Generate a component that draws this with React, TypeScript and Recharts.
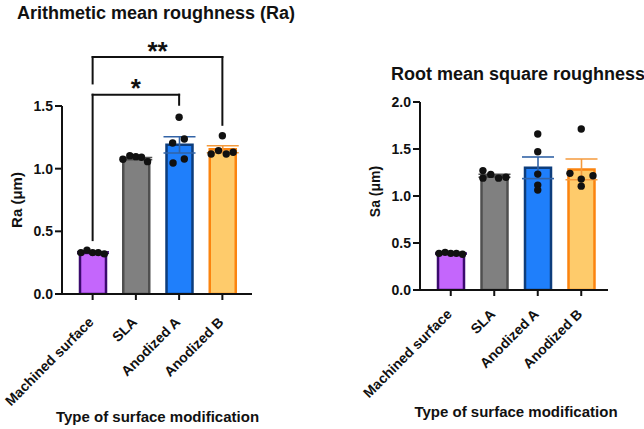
import React from 'react';
import {
  ComposedChart,
  Bar,
  ErrorBar,
  Scatter,
  XAxis,
  YAxis,
  ReferenceLine,
  ReferenceDot,
} from 'recharts';

// Surface treatment groups
const categories = ['Machined surface', 'SLA', 'Anodized A', 'Anodized B'];

// Arithmetic mean roughness Ra (µm): group mean, SEM and the five samples
const raMeans = [0.33, 1.08, 1.19, 1.155];
const raSem = [0.006, 0.009, 0.065, 0.028];
const raSamples = [
  [0.33, 0.35, 0.33, 0.33, 0.32],
  [1.075, 1.104, 1.096, 1.091, 1.056],
  [1.41, 1.205, 1.237, 1.045, 1.077],
  [1.263, 1.117, 1.144, 1.117, 1.131],
];

// Root mean square roughness Sa (µm)
const saMeans = [0.388, 1.215, 1.3, 1.283];
const saSem = [0.005, 0.016, 0.115, 0.11];
const saSamples = [
  [0.39, 0.4, 0.39, 0.39, 0.38],
  [1.27, 1.19, 1.23, 1.19, 1.2],
  [1.66, 1.47, 1.233, 1.116, 1.063],
  [1.713, 1.241, 1.18, 1.215, 1.105],
];

// Axis ticks
const raTicks = [0, 0.5, 1.0, 1.5];
const saTicks = [0, 0.5, 1.0, 1.5, 2.0];

// Pairwise comparisons (group indices, bracket height, leg ends, significance)
const raComparisons = [
  { from: 0, to: 2, y: 1.59, legFrom: 0.43, legTo: 1.51, mark: '*' },
  { from: 0, to: 3, y: 1.89, legFrom: 1.68, legTo: 1.35, mark: '**' },
];

// Horizontal scatter of the sample dots inside each bar (category units)
const row5 = [-0.27, -0.13, 0, 0.13, 0.27];
const raJitter = [row5, [-0.3, -0.14, 0, 0.13, 0.27], [0, -0.15, 0.12, -0.14, 0.12], [0, -0.26, -0.09, 0.09, 0.25]];
const saJitter = [row5, [-0.26, -0.26, -0.08, 0.1, 0.27], [0, 0, 0, 0, 0], [0, -0.26, 0, 0.27, 0]];

const fills = ['#c466fc', '#808080', '#1f7ffb', '#fecb6b'];
const strokes = ['#3b0a6e', '#4f4f4f', '#0d3d7c', '#fb840f'];
const errColors = ['#3b0a6e', '#4f4f4f', '#3263a6', '#f49a3c'];

const INK = '#111';
const FONT = '"Liberation Sans", Arial, Helvetica, sans-serif';

function SlantTick(props: any) {
  const { x, y, payload, lift } = props;
  return (
    <text
      transform={`translate(${x + 2},${y + lift}) rotate(-45)`}
      textAnchor="end"
      fontSize={14}
      fontWeight={700}
      fill={INK}
    >
      {payload.value}
    </text>
  );
}

function SampleDot(props: any) {
  return <circle cx={props.cx} cy={props.cy} r={3.7} fill={INK} />;
}

type Comparison = { from: number; to: number; y: number; legFrom: number; legTo: number; mark: string };

type PanelProps = {
  left: number;
  width: number;
  margin: { top: number; right: number; bottom: number; left: number };
  yWidth: number;
  pad: { left: number; right: number };
  yMax: number;
  yTicks: number[];
  means: number[];
  sem: number[];
  samples: number[][];
  jitter: number[][];
  comparisons: Comparison[];
  lift: number;
};

function Panel(p: PanelProps) {
  const rows = categories.map((name, i) => ({ name, [`m${i}`]: p.means[i], [`e${i}`]: p.sem[i] }));
  const dots = p.samples.flatMap((vals, i) => vals.map((y, j) => ({ x: i + p.jitter[i][j], y })));
  const line = { stroke: INK, strokeWidth: 2 };

  return (
    <div style={{ position: 'absolute', left: p.left, top: 0 }}>
      <ComposedChart width={p.width} height={429} data={rows} margin={p.margin}>
        <XAxis
          xAxisId="cat"
          dataKey="name"
          type="category"
          padding={p.pad}
          height={30}
          interval={0}
          tickSize={6}
          tickMargin={2}
          axisLine={line}
          tickLine={line}
          tick={<SlantTick lift={p.lift} />}
        />
        <XAxis
          xAxisId="num"
          dataKey="x"
          type="number"
          domain={[-0.5, 3.5]}
          allowDataOverflow
          padding={p.pad}
          hide
        />
        <YAxis
          width={p.yWidth}
          domain={[0, p.yMax]}
          allowDataOverflow
          ticks={p.yTicks}
          tickFormatter={(v: number) => v.toFixed(1)}
          tickSize={7}
          tickMargin={2}
          axisLine={line}
          tickLine={line}
          tick={{ fontSize: 14, fontWeight: 700, fill: INK }}
        />
        {categories.map((_, i) => (
          <Bar
            key={`bar${i}`}
            xAxisId="cat"
            dataKey={`m${i}`}
            stackId="group"
            barSize={26}
            fill={fills[i]}
            stroke={strokes[i]}
            strokeWidth={2.5}
            isAnimationActive={false}
          >
            <ErrorBar dataKey={`e${i}`} width={16} stroke={errColors[i]} strokeWidth={1.6} direction="y" />
          </Bar>
        ))}
        <Scatter
          xAxisId="num"
          data={dots}
          dataKey="y"
          shape={SampleDot}
          isAnimationActive={false}
        />
        {p.comparisons.flatMap((c, k) => [
          <ReferenceLine
            key={`l${k}`}
            xAxisId="num"
            segment={[{ x: c.from, y: c.legFrom }, { x: c.from, y: c.y }]}
            stroke={INK}
            strokeWidth={2}
            strokeLinecap="square"
            ifOverflow="visible"
          />,
          <ReferenceLine
            key={`t${k}`}
            xAxisId="num"
            segment={[{ x: c.from, y: c.y }, { x: c.to, y: c.y }]}
            stroke={INK}
            strokeWidth={2}
            strokeLinecap="square"
            ifOverflow="visible"
          />,
          <ReferenceLine
            key={`r${k}`}
            xAxisId="num"
            segment={[{ x: c.to, y: c.y }, { x: c.to, y: c.legTo }]}
            stroke={INK}
            strokeWidth={2}
            strokeLinecap="square"
            ifOverflow="visible"
          />,
          <ReferenceDot
            key={`s${k}`}
            xAxisId="num"
            x={(c.from + c.to) / 2}
            y={c.y}
            ifOverflow="visible"
            shape={(d: any) => (
              <text x={d.cx} y={d.cy} dy={2.5} textAnchor="middle" fontSize={26} fontWeight={700} fill={INK}>
                {c.mark}
              </text>
            )}
          />,
        ])}
      </ComposedChart>
    </div>
  );
}

export default function App() {
  return (
    <div
      style={{
        position: 'absolute',
        left: 0,
        top: 0,
        width: 644,
        height: 429,
        background: '#fff',
        fontFamily: FONT,
        overflow: 'hidden',
      }}
    >
      <Panel
        left={0}
        width={330}
        margin={{ top: 106, right: 78, bottom: 105, left: 0 }}
        yWidth={62}
        pad={{ left: 9, right: 8 }}
        yMax={1.5}
        yTicks={raTicks}
        means={raMeans}
        sem={raSem}
        samples={raSamples}
        jitter={raJitter}
        comparisons={raComparisons}
        lift={21}
      />
      <Panel
        left={330}
        width={314}
        margin={{ top: 102, right: 36, bottom: 109, left: 0 }}
        yWidth={90}
        pad={{ left: 9, right: 5 }}
        yMax={2}
        yTicks={saTicks}
        means={saMeans}
        sem={saSem}
        samples={saSamples}
        jitter={saJitter}
        comparisons={[]}
        lift={17}
      />
      <svg
        width={644}
        height={429}
        style={{ position: 'absolute', left: 0, top: 0, pointerEvents: 'none' }}
        fontFamily={FONT}
        fontWeight={700}
        fill={INK}
      >
        <text x={17} y={19} fontSize={18}>Arithmetic mean roughness (Ra)</text>
        <text x={391} y={79.5} fontSize={18}>Root mean square roughness</text>
        <text transform="translate(21.5,200) rotate(-90)" textAnchor="middle" fontSize={15}>Ra (μm)</text>
        <text transform="translate(379.5,191.5) rotate(-90)" textAnchor="middle" fontSize={14}>Sa (μm)</text>
        <text x={157.5} y={421.5} textAnchor="middle" fontSize={15}>Type of surface modification</text>
        <text x={516} y={417} textAnchor="middle" fontSize={15}>Type of surface modification</text>
      </svg>
    </div>
  );
}
